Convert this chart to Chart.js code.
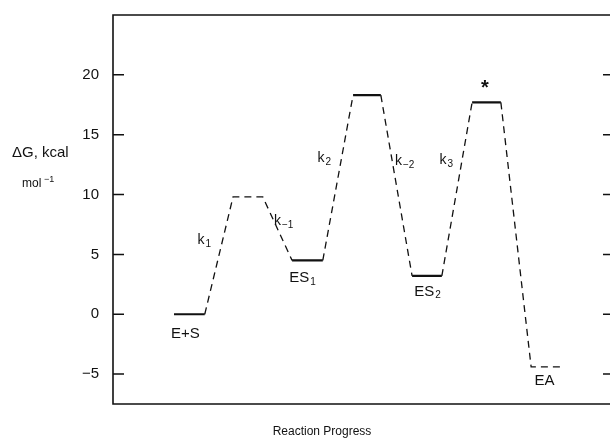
<!DOCTYPE html>
<html>
<head>
<meta charset="utf-8">
<script src="https://cdn.jsdelivr.net/npm/chart.js@4"></script>
<style>
  html, body { margin: 0; padding: 0; background: #fff; }
  #wrap { width: 610px; height: 439px; position: relative; }
</style>
</head>
<body>
<div id="wrap"><canvas id="energyChart"></canvas></div>
<script>
// energy levels along the reaction path
const states = ['E+S', 'TS1', 'ES1', 'TS2', 'ES2', 'TS3', 'EA'];
const energies = [0, 9.8, 4.5, 18.3, 3.2, 17.7, -4.4];
const startX = [12.3, 24.2, 36.1, 48.4, 60.3, 72.4, 84.3];
const endX = [18.5, 30.2, 42.3, 54.0, 66.3, 78.2, 90.5];
const dashedStates = ['TS1', 'EA'];

const yTicks = [-5, 0, 5, 10, 15, 20];

// text on the plot
const labelMain = ['E+S', 'k', 'k', 'ES', 'k', 'k', 'k', 'ES', '*', 'EA'];
const labelSub = ['', '1', '\u22121', '1', '2', '\u22122', '3', '2', '', ''];
const labelX = [14.6, 18.4, 34.4, 38.2, 42.6, 58.8, 67.2, 63.4, 75.0, 87.0];
const labelY = [-1.6, 6.2, 7.8, 3.0, 13.0, 12.8, 12.9, 1.9, 19.0, -5.6];

function buildSolid() {
    const pts = [];
    states.forEach((s, i) => {
        if (dashedStates.includes(s)) return;
        pts.push({ x: startX[i], y: energies[i] });
        pts.push({ x: endX[i], y: energies[i] });
        pts.push({ x: endX[i] + 0.5, y: null });
    });
    return pts;
}

function buildDashed() {
    const pts = [];
    states.forEach((s, i) => {
        if (i > 0) pts.push({ x: startX[i], y: energies[i] });
        if (dashedStates.includes(s)) {
            pts.push({ x: endX[i], y: energies[i] });
        } else if (i < states.length - 1) {
            pts.push({ x: (startX[i] + endX[i]) / 2, y: null });
            pts.push({ x: endX[i], y: energies[i] });
        }
    });
    return pts;
}

const frameAndText = {
    id: 'frameAndText',
    afterDraw(chart) {
        const ctx = chart.ctx;
        const area = chart.chartArea;
        const xs = chart.scales.x;
        const ys = chart.scales.y;
        ctx.save();
        ctx.strokeStyle = '#111';
        ctx.lineWidth = 1.6;
        ctx.beginPath();
        ctx.moveTo(area.right + 2, area.top);
        ctx.lineTo(area.left, area.top);
        ctx.lineTo(area.left, area.bottom);
        ctx.lineTo(area.right + 2, area.bottom);
        ctx.stroke();

        ctx.lineWidth = 1.5;
        yTicks.forEach(v => {
            const py = ys.getPixelForValue(v);
            ctx.beginPath();
            ctx.moveTo(area.left, py);
            ctx.lineTo(area.left + 11, py);
            ctx.moveTo(area.right - 6, py);
            ctx.lineTo(area.right + 2, py);
            ctx.stroke();
        });

        ctx.fillStyle = '#111';
        ctx.textBaseline = 'middle';
        labelMain.forEach((t, i) => {
            let mainFont = '14px "Liberation Sans"';
            if (t === 'E+S' || t === 'ES' || t === 'EA') mainFont = '15px "Liberation Sans"';
            if (t === '*') mainFont = 'bold 20px "Liberation Sans"';
            const subFont = '10px "Liberation Sans"';
            ctx.font = mainFont;
            const w1 = ctx.measureText(t).width;
            ctx.font = subFont;
            const w2 = labelSub[i] ? ctx.measureText(labelSub[i]).width + 1 : 0;
            const px = xs.getPixelForValue(labelX[i]) - (w1 + w2) / 2;
            const py = ys.getPixelForValue(labelY[i]);
            ctx.textAlign = 'left';
            ctx.font = mainFont;
            ctx.fillText(t, px, py + (t === '*' ? 2 : 0));
            if (labelSub[i]) {
                ctx.font = subFont;
                ctx.fillText(labelSub[i], px + w1 + 1, py + 4);
            }
        });

        // axis titles
        ctx.textAlign = 'left';
        ctx.font = '15px "Liberation Sans"';
        ctx.fillText('\u0394G, kcal', 12, 153);
        ctx.font = '12px "Liberation Sans"';
        ctx.fillText('mol', 22, 184);
        ctx.font = '9px "Liberation Sans"';
        ctx.fillText('\u22121', 44, 180);
        ctx.textAlign = 'center';
        ctx.font = '12px "Liberation Sans"';
        ctx.fillText('Reaction Progress', 322, 432);
        ctx.restore();
    }
};

function initializeEnergyChart() {
    const ctx = document.getElementById('energyChart').getContext('2d');
    new Chart(ctx, {
        type: 'line',
        data: {
            datasets: [{
                label: 'levels',
                data: buildSolid(),
                borderColor: '#111',
                borderWidth: 2.2,
                pointRadius: 0,
                spanGaps: false
            }, {
                label: 'path',
                data: buildDashed(),
                borderColor: '#111',
                borderWidth: 1.3,
                borderDash: [7, 5],
                pointRadius: 0,
                spanGaps: false
            }]
        },
        options: {
            responsive: true,
            maintainAspectRatio: false,
            animation: false,
            layout: { padding: { left: 0, top: 10, right: 1, bottom: 35 } },
            plugins: {
                legend: { display: false },
                tooltip: { enabled: false }
            },
            scales: {
                x: {
                    type: 'linear',
                    min: 0,
                    max: 100,
                    display: false
                },
                y: {
                    min: -7.5,
                    max: 25,
                    afterBuildTicks: scale => {
                        scale.ticks = yTicks.map(v => ({ value: v }));
                    },
                    afterFit: scale => {
                        scale.width = 113;
                    },
                    grid: { display: false },
                    border: { display: false },
                    ticks: {
                        color: '#111',
                        padding: 6,
                        font: { family: 'Liberation Sans', size: 15 },
                        callback: v => (v < 0 ? '\u2212' + Math.abs(v) : v)
                    }
                }
            }
        },
        plugins: [frameAndText]
    });
}

document.addEventListener('DOMContentLoaded', () => {
    initializeEnergyChart();
});
</script>
</body>
</html>
